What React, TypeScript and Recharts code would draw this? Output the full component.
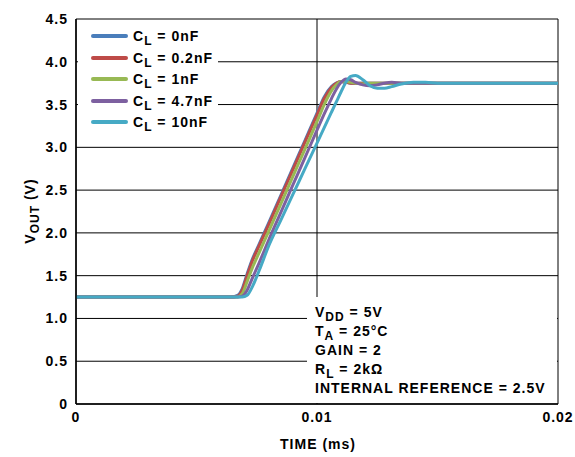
import React from "react";
import { LineChart, Line, XAxis, YAxis, CartesianGrid } from "recharts";

const times = [
  0, 0.0064, 0.0067, 0.0069, 0.0071, 0.0073, 0.0076, 0.008, 0.0085, 0.009,
  0.0095, 0.01, 0.0103, 0.0106, 0.0108, 0.011, 0.0112, 0.0114, 0.0116, 0.0119,
  0.0122, 0.0125, 0.0128, 0.0131, 0.0135, 0.014, 0.0145, 0.015, 0.02,
];

const cl0 = [
  1.25, 1.25, 1.27, 1.35, 1.52, 1.68, 1.87, 2.12, 2.44, 2.76, 3.08, 3.4, 3.59,
  3.71, 3.75, 3.77, 3.76, 3.75, 3.75, 3.75, 3.75, 3.75, 3.75, 3.75, 3.75, 3.75,
  3.75, 3.75, 3.75,
];
const cl02 = [
  1.25, 1.25, 1.26, 1.33, 1.5, 1.66, 1.85, 2.1, 2.42, 2.74, 3.06, 3.38, 3.57,
  3.7, 3.75, 3.77, 3.76, 3.75, 3.75, 3.75, 3.75, 3.75, 3.75, 3.75, 3.75, 3.75,
  3.75, 3.75, 3.75,
];
const cl1 = [
  1.25, 1.25, 1.25, 1.29, 1.43, 1.58, 1.77, 2.02, 2.34, 2.66, 2.98, 3.3, 3.5,
  3.66, 3.73, 3.77, 3.77, 3.76, 3.75, 3.74, 3.75, 3.75, 3.75, 3.75, 3.75, 3.75,
  3.75, 3.75, 3.75,
];
const cl47 = [
  1.25, 1.25, 1.25, 1.26, 1.33, 1.46, 1.65, 1.92, 2.24, 2.56, 2.88, 3.2, 3.39,
  3.57, 3.68, 3.76, 3.8, 3.79, 3.76, 3.73, 3.72, 3.73, 3.75, 3.76, 3.75, 3.75,
  3.75, 3.75, 3.75,
];
const cl10 = [
  1.25, 1.25, 1.25, 1.25, 1.27, 1.36, 1.56, 1.85, 2.15, 2.45, 2.75, 3.05, 3.23,
  3.41, 3.53, 3.65, 3.76, 3.83, 3.84, 3.79, 3.72, 3.69, 3.69, 3.71, 3.74, 3.76,
  3.76, 3.75, 3.75,
];

const series = [
  { key: "cl0", label: "0nF", values: cl0, color: "#4a7ebb" },
  { key: "cl02", label: "0.2nF", values: cl02, color: "#be4b48" },
  { key: "cl1", label: "1nF", values: cl1, color: "#98b954" },
  { key: "cl47", label: "4.7nF", values: cl47, color: "#7d60a0" },
  { key: "cl10", label: "10nF", values: cl10, color: "#46aac5" },
];

const yTicks = [0, 0.5, 1, 1.5, 2, 2.5, 3, 3.5, 4, 4.5];
const xTicks = [0, 0.01, 0.02];

const notes = [
  ["V", "DD", " = 5V"],
  ["T", "A", " = 25°C"],
  ["GAIN = 2", "", ""],
  ["R", "L", " = 2kΩ"],
  ["INTERNAL REFERENCE = 2.5V", "", ""],
];

const data = times.map((t, i) => {
  const row: Record<string, number> = { t };
  series.forEach((s) => (row[s.key] = s.values[i]));
  return row;
});

const font = "'Liberation Sans', Arial, sans-serif";
const textStyle: React.CSSProperties = {
  fontFamily: font,
  fontWeight: "bold",
  fontSize: 14,
  letterSpacing: 1,
  color: "#000",
  whiteSpace: "nowrap",
};
const sub: React.CSSProperties = {
  fontSize: 12,
  position: "relative",
  top: 4,
};

export default function App() {
  return (
    <div
      style={{
        position: "absolute",
        left: 0,
        top: 0,
        width: 575,
        height: 457,
        background: "#fff",
      }}
    >
      <LineChart
        width={575}
        height={457}
        data={data}
        margin={{ top: 19, right: 17, left: 0, bottom: 0 }}
      >
        <CartesianGrid stroke="#000" strokeWidth={1} />
        <XAxis
          dataKey="t"
          type="number"
          domain={[0, 0.02]}
          ticks={xTicks}
          tickFormatter={(v) => (v === 0 ? "0" : String(v))}
          height={53}
          tickLine={false}
          axisLine={{ stroke: "#000", strokeWidth: 1.5 }}
          tick={{
            fill: "#000",
            fontSize: 14,
            fontWeight: "bold",
            fontFamily: font,
            letterSpacing: 1,
          }}
        />
        <YAxis
          type="number"
          domain={[0, 4.5]}
          ticks={yTicks}
          tickFormatter={(v) => (v === 0 ? "0" : v.toFixed(1))}
          width={76}
          tickLine={false}
          axisLine={{ stroke: "#000", strokeWidth: 1.5 }}
          tick={{
            fill: "#000",
            fontSize: 14,
            fontWeight: "bold",
            fontFamily: font,
            letterSpacing: 1,
          }}
        />
        {series.map((s) => (
          <Line
            key={s.key}
            dataKey={s.key}
            type="monotone"
            stroke={s.color}
            strokeWidth={3}
            dot={false}
            isAnimationActive={false}
          />
        ))}
      </LineChart>

      {/* legend */}
      <div
        style={{
          position: "absolute",
          left: 78,
          top: 21,
          width: 140,
          height: 114,
          background: "#fff",
        }}
      >
        {series.map((s, i) => (
          <div
            key={s.key}
            style={{
              position: "absolute",
              left: 13,
              top: 15 + i * 21.6 - 10,
              height: 20,
              display: "flex",
              alignItems: "center",
            }}
          >
            <div
              style={{
                width: 37,
                height: 4,
                borderRadius: 2,
                background: s.color,
                marginRight: 5,
              }}
            />
            <span style={textStyle}>
              C<span style={sub}>L</span> = {s.label}
            </span>
          </div>
        ))}
      </div>

      {/* conditions */}
      <div
        style={{
          position: "absolute",
          left: 307,
          top: 297,
          width: 250,
          height: 106,
          background: "#fff",
        }}
      >
        {notes.map((n, i) => (
          <div
            key={i}
            style={{
              ...textStyle,
              position: "absolute",
              left: 8,
              top: 6 + i * 19,
              lineHeight: "19px",
            }}
          >
            {n[0]}
            {n[1] && <span style={sub}>{n[1]}</span>}
            {n[2]}
          </div>
        ))}
      </div>

      {/* axis titles */}
      <div
        style={{
          ...textStyle,
          position: "absolute",
          left: 30,
          top: 211,
          transform: "translate(-50%, -50%) rotate(-90deg)",
        }}
      >
        V<span style={sub}>OUT</span> (V)
      </div>
      <div
        style={{
          ...textStyle,
          position: "absolute",
          left: 318,
          top: 444,
          transform: "translate(-50%, -50%)",
        }}
      >
        TIME (ms)
      </div>
    </div>
  );
}
